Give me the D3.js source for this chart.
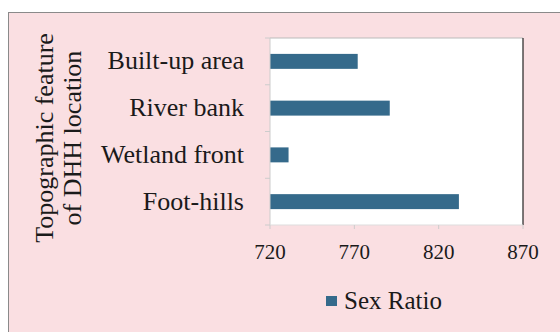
<!DOCTYPE html>
<html><head><meta charset="utf-8">
<script src="https://cdn.jsdelivr.net/npm/d3@7"></script>
<style>body{margin:0;background:#fff}svg{display:block}</style>
</head><body><svg id="c" width="560" height="332" font-family="'Liberation Serif', 'Times New Roman', serif"></svg>
<script>
const categories = ["Built-up area","River bank","Wetland front","Foot-hills"];
const sexRatio = [772, 791, 731, 832];
const xTicks = [720, 770, 820, 870];
const seriesName = "Sex Ratio";

const FONT = "'Liberation Serif', 'Times New Roman', serif";
const svg = d3.select("#c");
svg.append("rect").attr("x",8.5).attr("y",12.5).attr("width",560).attr("height",330)
  .attr("fill","#fadfe2").attr("stroke","#8a8a8a").attr("stroke-width",1);

const L=270, R=523, T=38, B=225;
const x = d3.scaleLinear().domain([720,870]).range([L,R]);
const y = d3.scaleBand().domain(categories).range([T,B]).paddingInner(0.68).paddingOuter(0.34);

svg.append("rect").attr("x",L).attr("y",T).attr("width",R-L).attr("height",B-T).attr("fill","#fff");
svg.append("line").attr("x1",L).attr("x2",R).attr("y1",T).attr("y2",T).attr("stroke","#bbb");
svg.append("line").attr("x1",R).attr("x2",R).attr("y1",T).attr("y2",B).attr("stroke","#222").attr("stroke-width",1.2);

svg.selectAll("rect.bar").data(categories).join("rect").attr("class","bar")
  .attr("x",x(720)).attr("y",d=>y(d)).attr("height",y.bandwidth())
  .attr("width",(d,i)=>x(sexRatio[i])-x(720)).attr("fill","#356a8b");

svg.append("line").attr("x1",L).attr("x2",L).attr("y1",T).attr("y2",B).attr("stroke","#ccc");
const step = (B-T)/categories.length;
d3.range(categories.length+1).forEach(i=>{
  svg.append("line").attr("x1",L-5).attr("x2",L).attr("y1",T+i*step).attr("y2",T+i*step).attr("stroke","#ccc");
});
svg.append("line").attr("x1",L).attr("x2",R).attr("y1",B).attr("y2",B).attr("stroke","#ddd");
xTicks.forEach(t=>{
  svg.append("line").attr("x1",x(t)).attr("x2",x(t)).attr("y1",B).attr("y2",B+4).attr("stroke","#ccc");
  svg.append("text").attr("x",x(t)).attr("y",259).attr("text-anchor","middle")
    .attr("font-family",FONT).attr("font-size",21).attr("fill","#1a1a1a").text(t);
});
categories.forEach(c=>{
  svg.append("text").attr("x",244).attr("y",y(c)+y.bandwidth()/2+8).attr("text-anchor","end")
    .attr("font-family",FONT).attr("font-size",26).attr("fill","#1a1a1a").text(c);
});
const g = svg.append("g").attr("transform","translate(53,138) rotate(-90)");
g.append("text").attr("x",0).attr("y",0).attr("text-anchor","middle")
  .attr("font-family",FONT).attr("font-size",26).attr("fill","#1a1a1a").text("Topographic feature");
g.append("text").attr("x",0).attr("y",28).attr("text-anchor","middle")
  .attr("font-family",FONT).attr("font-size",26).attr("fill","#1a1a1a").text("of DHH location");
svg.append("rect").attr("x",326).attr("y",296).attr("width",11).attr("height",10).attr("fill","#356a8b");
svg.append("text").attr("x",344).attr("y",309).attr("font-family",FONT)
  .attr("font-size",25).attr("fill","#1a1a1a").text(seriesName);
</script></body></html>
